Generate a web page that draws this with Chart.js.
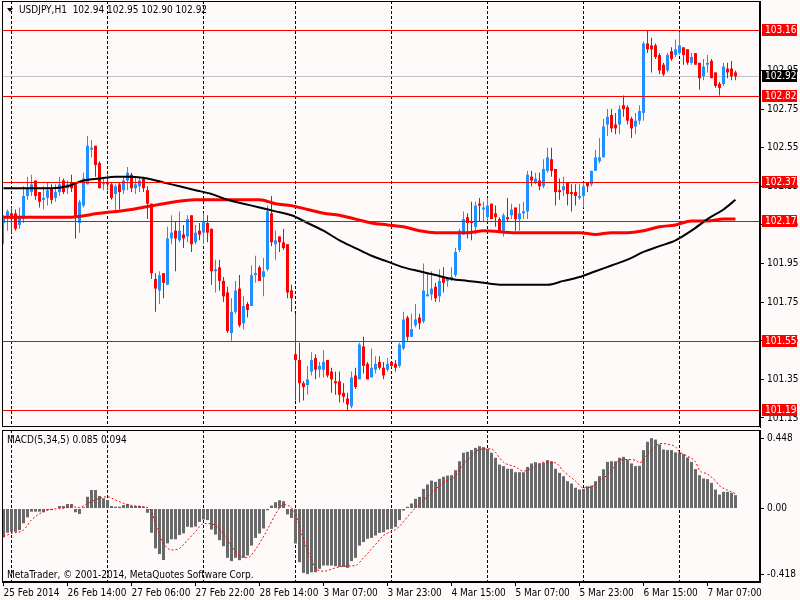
<!DOCTYPE html>
<html>
<head>
<meta charset="utf-8">
<script src="https://cdn.jsdelivr.net/npm/chart.js@4.4.1/dist/chart.umd.min.js"></script>
<style>
  html, body { margin: 0; padding: 0; background: #fffafa; }
  #wrap { position: relative; width: 800px; height: 600px; overflow: hidden; }
  #priceBox { position: absolute; left: 0; top: 0; width: 800px; height: 428px; }
  #macdBox { position: absolute; left: 0; top: 428px; width: 800px; height: 172px; }
</style>
</head>
<body>
<div id="wrap">
  <div id="priceBox"><canvas id="priceChart"></canvas></div>
  <div id="macdBox"><canvas id="macdChart"></canvas></div>
</div>
<script>
// USDJPY H1, one entry per hourly bar (25 Feb 22:00 .. 7 Mar 14:00)
const symbol = 'USDJPY';
const timeframe = 'H1';

const opens = [
  102.16,102.19,102.21,102.21,102.15,102.18,102.30,102.32,102.38,102.32,
  102.28,102.29,102.34,102.29,102.32,102.38,102.34,102.37,102.36,102.16,
  102.25,102.36,102.54,102.56,102.47,102.36,102.37,102.36,102.31,102.36,
  102.33,102.38,102.41,102.34,102.35,102.39,102.33,102.26,101.87,101.81,
  101.90,101.84,102.08,102.12,102.07,102.10,102.09,102.20,102.06,102.12,
  102.11,102.16,102.13,101.91,101.93,101.86,101.80,101.59,101.70,101.82,
  101.64,101.74,101.73,101.89,101.93,101.88,101.92,102.21,102.05,102.09,
  102.06,102.05,101.81,101.48,101.45,101.33,101.32,101.39,101.46,101.40,
  101.40,101.45,101.39,101.34,101.34,101.28,101.25,101.21,101.37,101.35,
  101.52,101.43,101.36,101.40,101.44,101.41,101.40,101.44,101.43,101.42,
  101.51,101.67,101.57,101.63,101.67,101.65,101.78,101.79,101.83,101.78,
  101.88,101.86,101.87,101.89,102.02,102.10,102.19,102.17,102.14,102.26,
  102.23,102.19,102.26,102.21,102.18,102.12,102.19,102.20,102.24,102.18,
  102.21,102.22,102.40,102.37,102.38,102.35,102.43,102.49,102.44,102.33,
  102.33,102.37,102.32,102.32,102.29,102.30,102.37,102.36,102.43,102.48,
  102.50,102.67,102.72,102.67,102.67,102.77,102.76,102.70,102.66,102.69,
  102.73,103.09,103.08,103.08,103.03,102.98,102.95,103.05,103.03,103.04,
  103.07,103.06,102.99,103.04,102.99,102.92,102.98,103.00,102.94,102.88,
  102.88,102.96,102.96,102.94
];
const highs = [
  102.20,102.23,102.24,102.23,102.24,102.35,102.40,102.41,102.38,102.32,
  102.35,102.37,102.36,102.36,102.40,102.39,102.38,102.41,102.36,102.28,
  102.42,102.61,102.59,102.56,102.48,102.40,102.41,102.37,102.36,102.37,
  102.40,102.45,102.42,102.40,102.40,102.40,102.35,102.26,101.90,101.91,
  101.90,102.14,102.20,102.17,102.22,102.15,102.20,102.20,102.15,102.16,
  102.21,102.20,102.13,101.97,101.97,101.88,101.83,101.77,101.86,101.89,
  101.78,101.75,101.94,101.99,101.94,101.98,102.25,102.30,102.12,102.09,
  102.13,102.05,101.84,101.69,101.54,101.34,101.42,101.49,101.48,101.44,
  101.50,101.45,101.41,101.39,101.39,101.33,101.28,101.39,101.41,101.54,
  101.57,101.44,101.51,101.47,101.47,101.44,101.46,101.44,101.45,101.54,
  101.70,101.68,101.69,101.74,101.69,101.95,101.90,101.91,101.85,101.92,
  101.93,101.88,101.93,102.03,102.13,102.22,102.21,102.27,102.27,102.29,
  102.27,102.29,102.26,102.25,102.19,102.21,102.29,102.26,102.24,102.26,
  102.27,102.43,102.43,102.42,102.42,102.49,102.55,102.55,102.44,102.39,
  102.40,102.37,102.36,102.36,102.36,102.37,102.37,102.43,102.54,102.60,
  102.70,102.75,102.75,102.73,102.77,102.82,102.77,102.71,102.73,102.77,
  103.10,103.16,103.12,103.09,103.04,102.99,103.04,103.07,103.11,103.15,
  103.07,103.06,103.04,103.04,102.99,103.01,103.03,103.01,102.94,102.89,
  102.99,102.99,103.00,102.95
];
const lows = [
  102.05,102.12,102.11,102.12,102.13,102.16,102.28,102.30,102.28,102.24,
  102.23,102.25,102.26,102.27,102.30,102.31,102.31,102.32,102.08,102.11,
  102.24,102.36,102.50,102.40,102.34,102.33,102.33,102.28,102.22,102.23,
  102.31,102.33,102.32,102.31,102.32,102.32,102.18,101.87,101.70,101.74,
  101.77,101.84,102.05,101.91,102.06,102.03,102.06,102.01,102.05,102.07,
  102.05,102.06,101.84,101.80,101.81,101.75,101.59,101.55,101.69,101.62,
  101.61,101.67,101.73,101.85,101.86,101.78,101.91,102.04,101.97,102.01,
  102.02,101.77,101.70,101.24,101.23,101.24,101.27,101.37,101.35,101.36,
  101.36,101.36,101.28,101.27,101.23,101.23,101.19,101.20,101.30,101.35,
  101.38,101.35,101.36,101.38,101.40,101.35,101.39,101.41,101.39,101.41,
  101.50,101.55,101.57,101.62,101.61,101.64,101.78,101.76,101.75,101.75,
  101.80,101.83,101.86,101.88,102.01,102.10,102.08,102.07,102.10,102.17,
  102.17,102.17,102.18,102.14,102.11,102.09,102.17,102.18,102.12,102.12,
  102.18,102.18,102.35,102.36,102.33,102.34,102.42,102.40,102.25,102.28,
  102.30,102.25,102.22,102.25,102.28,102.24,102.32,102.35,102.43,102.47,
  102.50,102.61,102.63,102.62,102.62,102.71,102.67,102.60,102.62,102.67,
  102.69,103.04,102.94,103.01,102.93,102.92,102.94,103.00,103.02,103.03,
  102.98,102.98,102.98,102.98,102.85,102.90,102.94,102.91,102.86,102.82,
  102.87,102.91,102.90,102.90
];
const closes = [
  102.19,102.22,102.18,102.13,102.19,102.30,102.34,102.36,102.30,102.27,
  102.29,102.33,102.28,102.32,102.36,102.32,102.36,102.34,102.19,102.27,
  102.39,102.56,102.55,102.46,102.34,102.37,102.36,102.29,102.35,102.32,
  102.38,102.42,102.34,102.36,102.38,102.34,102.26,101.90,101.82,101.89,
  101.85,102.08,102.11,102.08,102.12,102.08,102.18,102.05,102.11,102.10,
  102.17,102.11,101.91,101.92,101.86,101.78,101.60,101.70,101.81,101.63,
  101.73,101.71,101.89,101.90,101.86,101.91,102.22,102.06,102.07,102.06,
  102.03,101.80,101.77,101.45,101.33,101.31,101.35,101.45,101.40,101.42,
  101.44,101.37,101.35,101.33,101.27,101.26,101.22,101.36,101.31,101.53,
  101.42,101.35,101.41,101.43,101.41,101.37,101.43,101.42,101.41,101.53,
  101.66,101.57,101.61,101.66,101.64,101.81,101.79,101.82,101.77,101.86,
  101.85,101.87,101.88,102.01,102.12,102.18,102.16,102.16,102.25,102.25,
  102.24,102.25,102.18,102.19,102.12,102.20,102.18,102.23,102.18,102.21,
  102.22,102.41,102.38,102.39,102.35,102.44,102.50,102.43,102.32,102.32,
  102.35,102.31,102.31,102.30,102.30,102.35,102.35,102.43,102.50,102.50,
  102.66,102.71,102.65,102.65,102.75,102.75,102.69,102.65,102.69,102.74,
  103.09,103.06,103.06,103.02,102.95,102.93,103.03,103.01,103.06,103.08,
  103.03,102.99,103.02,102.98,102.91,102.97,102.99,102.91,102.87,102.86,
  102.97,102.94,102.92,102.92
];

// moving averages: [bar, price]
const maBlack = [
  [0,102.34],[4,102.34],[8,102.34],[12,102.34],[16,102.35],[20,102.38],[24,102.39],
  [28,102.40],[32,102.40],[36,102.39],[40,102.37],[44,102.35],[48,102.33],[52,102.31],
  [56,102.28],[60,102.26],[64,102.24],[68,102.22],[72,102.20],[76,102.16],[80,102.12],
  [84,102.07],[88,102.03],[92,101.99],[96,101.96],[100,101.93],[104,101.91],[108,101.89],
  [112,101.87],[116,101.86],[120,101.85],[124,101.84],[128,101.84],[132,101.84],[136,101.84],
  [140,101.86],[144,101.88],[148,101.91],[152,101.94],[156,101.97],[160,102.01],[164,102.04],
  [168,102.07],[172,102.12],[176,102.18],[180,102.23],[183,102.28]
];
const maRed = [
  [0,102.19],[8,102.19],[16,102.19],[24,102.21],[32,102.23],[40,102.26],[48,102.28],
  [56,102.28],[64,102.28],[68,102.26],[72,102.25],[76,102.23],[80,102.21],[84,102.20],
  [88,102.18],[92,102.16],[96,102.15],[100,102.14],[104,102.12],[108,102.11],[112,102.11],
  [116,102.11],[120,102.12],[128,102.11],[136,102.11],[144,102.11],[148,102.10],[152,102.11],
  [156,102.11],[160,102.12],[164,102.14],[168,102.15],[172,102.17],[176,102.17],[180,102.18],
  [183,102.18]
];

// MACD(5,34,5) histogram, one value per bar
const macdMain = [
  -0.184,-0.154,-0.148,-0.148,-0.137,-0.094,-0.056,-0.020,-0.020,-0.020,
  -0.024,-0.010,-0.010,-0.003,0.016,0.016,0.029,0.029,-0.024,-0.035,
  0.008,0.075,0.118,0.118,0.080,0.065,0.054,0.016,0.012,0.012,
  0.022,0.029,0.016,0.016,0.016,0.012,-0.027,-0.154,-0.254,-0.290,
  -0.328,-0.222,-0.196,-0.196,-0.169,-0.158,-0.116,-0.120,-0.115,-0.085,
  -0.070,-0.074,-0.134,-0.166,-0.202,-0.240,-0.314,-0.335,-0.314,-0.329,
  -0.314,-0.299,-0.236,-0.187,-0.159,-0.127,-0.011,0.019,0.040,0.053,
  0.047,-0.038,-0.060,-0.223,-0.342,-0.410,-0.418,-0.406,-0.406,-0.384,
  -0.363,-0.363,-0.363,-0.367,-0.372,-0.372,-0.378,-0.335,-0.314,-0.236,
  -0.214,-0.193,-0.187,-0.172,-0.155,-0.151,-0.134,-0.130,-0.117,-0.074,
  -0.013,0.011,0.032,0.062,0.074,0.125,0.153,0.178,0.170,0.189,
  0.202,0.210,0.212,0.244,0.301,0.355,0.361,0.372,0.386,0.397,
  0.391,0.380,0.355,0.323,0.280,0.270,0.253,0.253,0.231,0.231,
  0.231,0.265,0.287,0.295,0.287,0.291,0.308,0.301,0.253,0.227,
  0.206,0.174,0.159,0.132,0.121,0.125,0.142,0.146,0.174,0.206,
  0.250,0.297,0.301,0.301,0.323,0.329,0.312,0.287,0.270,0.272,
  0.372,0.425,0.448,0.439,0.408,0.376,0.372,0.372,0.357,0.357,
  0.346,0.325,0.297,0.251,0.212,0.191,0.187,0.163,0.121,0.089,
  0.106,0.106,0.100,0.085
];
// signal line, read at the points where it could be seen: [bar, value]
const macdSignal = [
  [0,-0.179],[2,-0.158],[5,-0.137],[7,-0.073],[10,-0.020],[12,-0.005],[15,0.001],[17,0.012],
  [19,0.007],[21,0.033],[24,0.065],[26,0.075],[28,0.054],[30,0.033],[33,0.016],[35,0.012],
  [37,-0.020],[38,-0.100],[40,-0.222],[42,-0.264],[44,-0.254],[46,-0.201],[48,-0.148],
  [50,-0.096],[52,-0.098],[54,-0.130],[57,-0.240],[59,-0.300],[61,-0.314],[63,-0.260],
  [66,-0.134],[68,-0.038],[70,0.025],[72,0.004],[73,-0.038],[75,-0.197],[77,-0.325],
  [78,-0.380],[80,-0.399],[83,-0.378],[85,-0.367],[88,-0.363],[90,-0.314],[93,-0.229],
  [95,-0.172],[98,-0.134],[99,-0.113],[101,-0.053],[103,0.005],[105,0.053],[108,0.121],
  [110,0.168],[113,0.206],[114,0.250],[117,0.333],[119,0.376],[122,0.380],[123,0.355],
  [125,0.295],[128,0.265],[130,0.238],[133,0.270],[135,0.295],[138,0.291],[140,0.238],
  [143,0.174],[145,0.132],[147,0.138],[149,0.174],[152,0.240],[154,0.308],[156,0.312],
  [158,0.308],[159,0.291],[161,0.346],[163,0.393],[164,0.414],[166,0.410],[168,0.393],
  [169,0.361],[171,0.333],[173,0.297],[174,0.244],[176,0.219],[178,0.176],[179,0.145],
  [181,0.117],[183,0.094]
];

// horizontal lines drawn on the chart
const levels = [103.16, 102.82, 102.37, 102.17, 101.55, 101.19];
const bidPrice = 102.92;

// axes
const priceTicks = [101.15, 101.35, 101.55, 101.75, 101.95, 102.15, 102.35, 102.55, 102.75, 102.95];
const macdTicks = [-0.418, 0, 0.448];
const labelBars = [0, 16, 32, 48, 64, 80, 96, 112, 128, 144, 160, 176];
const timeLabels = ['25 Feb 2014', '26 Feb 14:00', '27 Feb 06:00', '27 Feb 22:00', '28 Feb 14:00',
  '3 Mar 07:00', '3 Mar 23:00', '4 Mar 15:00', '5 Mar 07:00', '5 Mar 23:00', '6 Mar 15:00', '7 Mar 07:00'];
const daySeparators = [2, 26, 50, 73, 97, 121, 145, 169]; // first bar of each day

const UP = '#1e90ff', DOWN = '#ff0000';
const FONT = "'Liberation Sans Narrow', 'DejaVu Sans Condensed', 'Liberation Sans', sans-serif";

Chart.defaults.font.family = FONT;
Chart.defaults.font.size = 10;
Chart.defaults.color = '#000';
Chart.defaults.animation = false;

const last = closes.length - 1;
const candleColors = closes.map((c, i) => c >= opens[i] ? UP : DOWN);

function xAxis(extra) {
  return Object.assign({
    type: 'linear', min: -0.375, max: 189.125, offset: false,
    grid: { drawOnChartArea: false, offset: false }
  }, extra);
}

function hline(ctx, x1, x2, y) {
  ctx.beginPath(); ctx.moveTo(x1, y); ctx.lineTo(x2, y); ctx.stroke();
}
function vline(ctx, x, y1, y2) {
  ctx.beginPath(); ctx.moveTo(x, y1); ctx.lineTo(x, y2); ctx.stroke();
}
function drawSeparators(chart) {
  const { ctx, chartArea: a, scales: { x } } = chart;
  ctx.save();
  ctx.strokeStyle = '#000';
  ctx.lineWidth = 1;
  ctx.setLineDash([3, 2]);
  daySeparators.forEach(b => vline(ctx, Math.floor(x.getPixelForValue(b)) + 0.5, a.top, a.bottom));
  ctx.restore();
}
function drawFrame(chart) {
  const { ctx, chartArea: a } = chart;
  ctx.save();
  ctx.strokeStyle = '#000';
  ctx.lineWidth = 1;
  ctx.strokeRect(a.left + 0.5, a.top + 0.5, a.right - a.left - 1, a.bottom - a.top - 1);
  ctx.restore();
}
function priceBox(ctx, y, value, bg) {
  ctx.fillStyle = bg;
  ctx.fillRect(762, y - 6, 35, 12);
  ctx.fillStyle = '#fff';
  ctx.fillText(value.toFixed(2), 765, y);
}

const pricePanel = {
  id: 'pricePanel',
  beforeDatasetsDraw(chart) {
    const { ctx, chartArea: a, scales: { y } } = chart;
    drawSeparators(chart);
    ctx.save();
    ctx.strokeStyle = '#c0c0c0';
    hline(ctx, a.left, a.right, Math.round(y.getPixelForValue(bidPrice)) + 0.5);
    ctx.restore();
  },
  afterDatasetsDraw(chart) {
    const { ctx, chartArea: a, scales: { y } } = chart;
    ctx.save();
    ctx.strokeStyle = '#ff0000';
    ctx.lineWidth = 1;
    levels.forEach(v => hline(ctx, a.left, a.right, Math.round(y.getPixelForValue(v)) + 0.5));
    ctx.restore();
  },
  afterDraw(chart) {
    const { ctx, scales: { y } } = chart;
    drawFrame(chart);
    ctx.save();
    ctx.font = '10px ' + FONT;
    ctx.textBaseline = 'middle';
    // title
    ctx.fillStyle = '#000';
    ctx.beginPath(); ctx.moveTo(7, 8); ctx.lineTo(13, 8); ctx.lineTo(10, 12); ctx.closePath(); ctx.fill();
    const ohlc = [opens[last], highs[last], lows[last], closes[last]].map(v => v.toFixed(2)).join(' ');
    ctx.fillText(symbol + ',' + timeframe + '  ' + ohlc, 19, 10);
    // price labels on the right scale
    levels.forEach(v => priceBox(ctx, Math.round(y.getPixelForValue(v)), v, '#ff0000'));
    priceBox(ctx, Math.round(y.getPixelForValue(bidPrice)), bidPrice, '#000');
    ctx.restore();
  }
};

const macdPanel = {
  id: 'macdPanel',
  beforeDatasetsDraw(chart) { drawSeparators(chart); },
  afterDraw(chart) {
    const { ctx } = chart;
    drawFrame(chart);
    ctx.save();
    ctx.font = '10px ' + FONT;
    ctx.textBaseline = 'middle';
    ctx.fillStyle = '#000';
    const sig = macdSignal[macdSignal.length - 1][1];
    ctx.fillText('MACD(5,34,5) ' + macdMain[last].toFixed(3) + ' ' + sig.toFixed(3), 7, 12);
    ctx.fillText('MetaTrader, \u00a9 2001-2014, MetaQuotes Software Corp.', 7, 147);
    ctx.restore();
  }
};

new Chart(document.getElementById('priceChart'), {
  type: 'bar',
  data: {
    datasets: [
      {
        type: 'line', data: maBlack.map(p => ({ x: p[0], y: p[1] })),
        borderColor: '#000', borderWidth: 2, pointRadius: 0,
        cubicInterpolationMode: 'monotone', order: 0
      },
      {
        type: 'line', data: maRed.map(p => ({ x: p[0], y: p[1] })),
        borderColor: '#ff0000', borderWidth: 3, pointRadius: 0,
        cubicInterpolationMode: 'monotone', order: 0
      },
      {
        data: opens.map((o, i) => ({ x: i, y: [o, closes[i]] })),
        backgroundColor: candleColors, barThickness: 3, minBarLength: 1,
        grouped: false, inflateAmount: 0, borderWidth: 0, order: 1
      },
      {
        data: lows.map((l, i) => ({ x: i, y: [l, highs[i]] })),
        backgroundColor: candleColors, barThickness: 1,
        grouped: false, inflateAmount: 0, borderWidth: 0, order: 2
      }
    ]
  },
  options: {
    responsive: true, maintainAspectRatio: false,
    layout: { padding: { left: 2, top: 1, right: 0, bottom: 1 } },
    plugins: { legend: { display: false }, tooltip: { enabled: false } },
    scales: {
      x: xAxis({ display: false }),
      y: {
        position: 'right', min: 101.103, max: 103.31,
        afterBuildTicks: s => { s.ticks = priceTicks.map(v => ({ value: v })); },
        afterFit: s => { s.width = 40; s.paddingTop = 0; s.paddingBottom = 0; },
        ticks: { padding: 3, callback: v => v.toFixed(2) },
        grid: { drawOnChartArea: false, tickLength: 4, color: '#000' },
        border: { color: '#000' }
      }
    }
  },
  plugins: [pricePanel]
});

new Chart(document.getElementById('macdChart'), {
  type: 'bar',
  data: {
    datasets: [
      {
        type: 'line', data: macdSignal.map(p => ({ x: p[0], y: p[1] })),
        borderColor: '#ff0000', borderWidth: 1, borderDash: [2, 2], pointRadius: 0,
        cubicInterpolationMode: 'monotone', order: 0
      },
      {
        data: macdMain.map((v, i) => ({ x: i, y: v })),
        backgroundColor: '#696969', barThickness: 3,
        grouped: false, inflateAmount: 0, borderWidth: 0, order: 1
      }
    ]
  },
  options: {
    responsive: true, maintainAspectRatio: false,
    layout: { padding: { left: 2, top: 2, right: 0, bottom: 0 } },
    plugins: { legend: { display: false }, tooltip: { enabled: false } },
    scales: {
      x: xAxis({
        afterBuildTicks: s => { s.ticks = labelBars.map(v => ({ value: v })); },
        afterFit: s => { s.height = 18; s.paddingLeft = 0; s.paddingRight = 0; },
        ticks: { autoSkip: false, maxRotation: 0, align: 'start', padding: 1,
          callback: (v, i) => timeLabels[i] },
        grid: { drawOnChartArea: false, offset: false, tickLength: 4, color: '#000' },
        border: { color: '#000' }
      }),
      y: {
        position: 'right', min: -0.468, max: 0.5,
        afterBuildTicks: s => { s.ticks = macdTicks.map(v => ({ value: v })); },
        afterFit: s => { s.width = 40; s.paddingTop = 0; s.paddingBottom = 0; },
        ticks: { padding: 3, callback: v => v === 0 ? '0.00' : v.toFixed(3) },
        grid: { drawOnChartArea: false, tickLength: 4, color: '#000' },
        border: { color: '#000' }
      }
    }
  },
  plugins: [macdPanel]
});
</script>
</body>
</html>
